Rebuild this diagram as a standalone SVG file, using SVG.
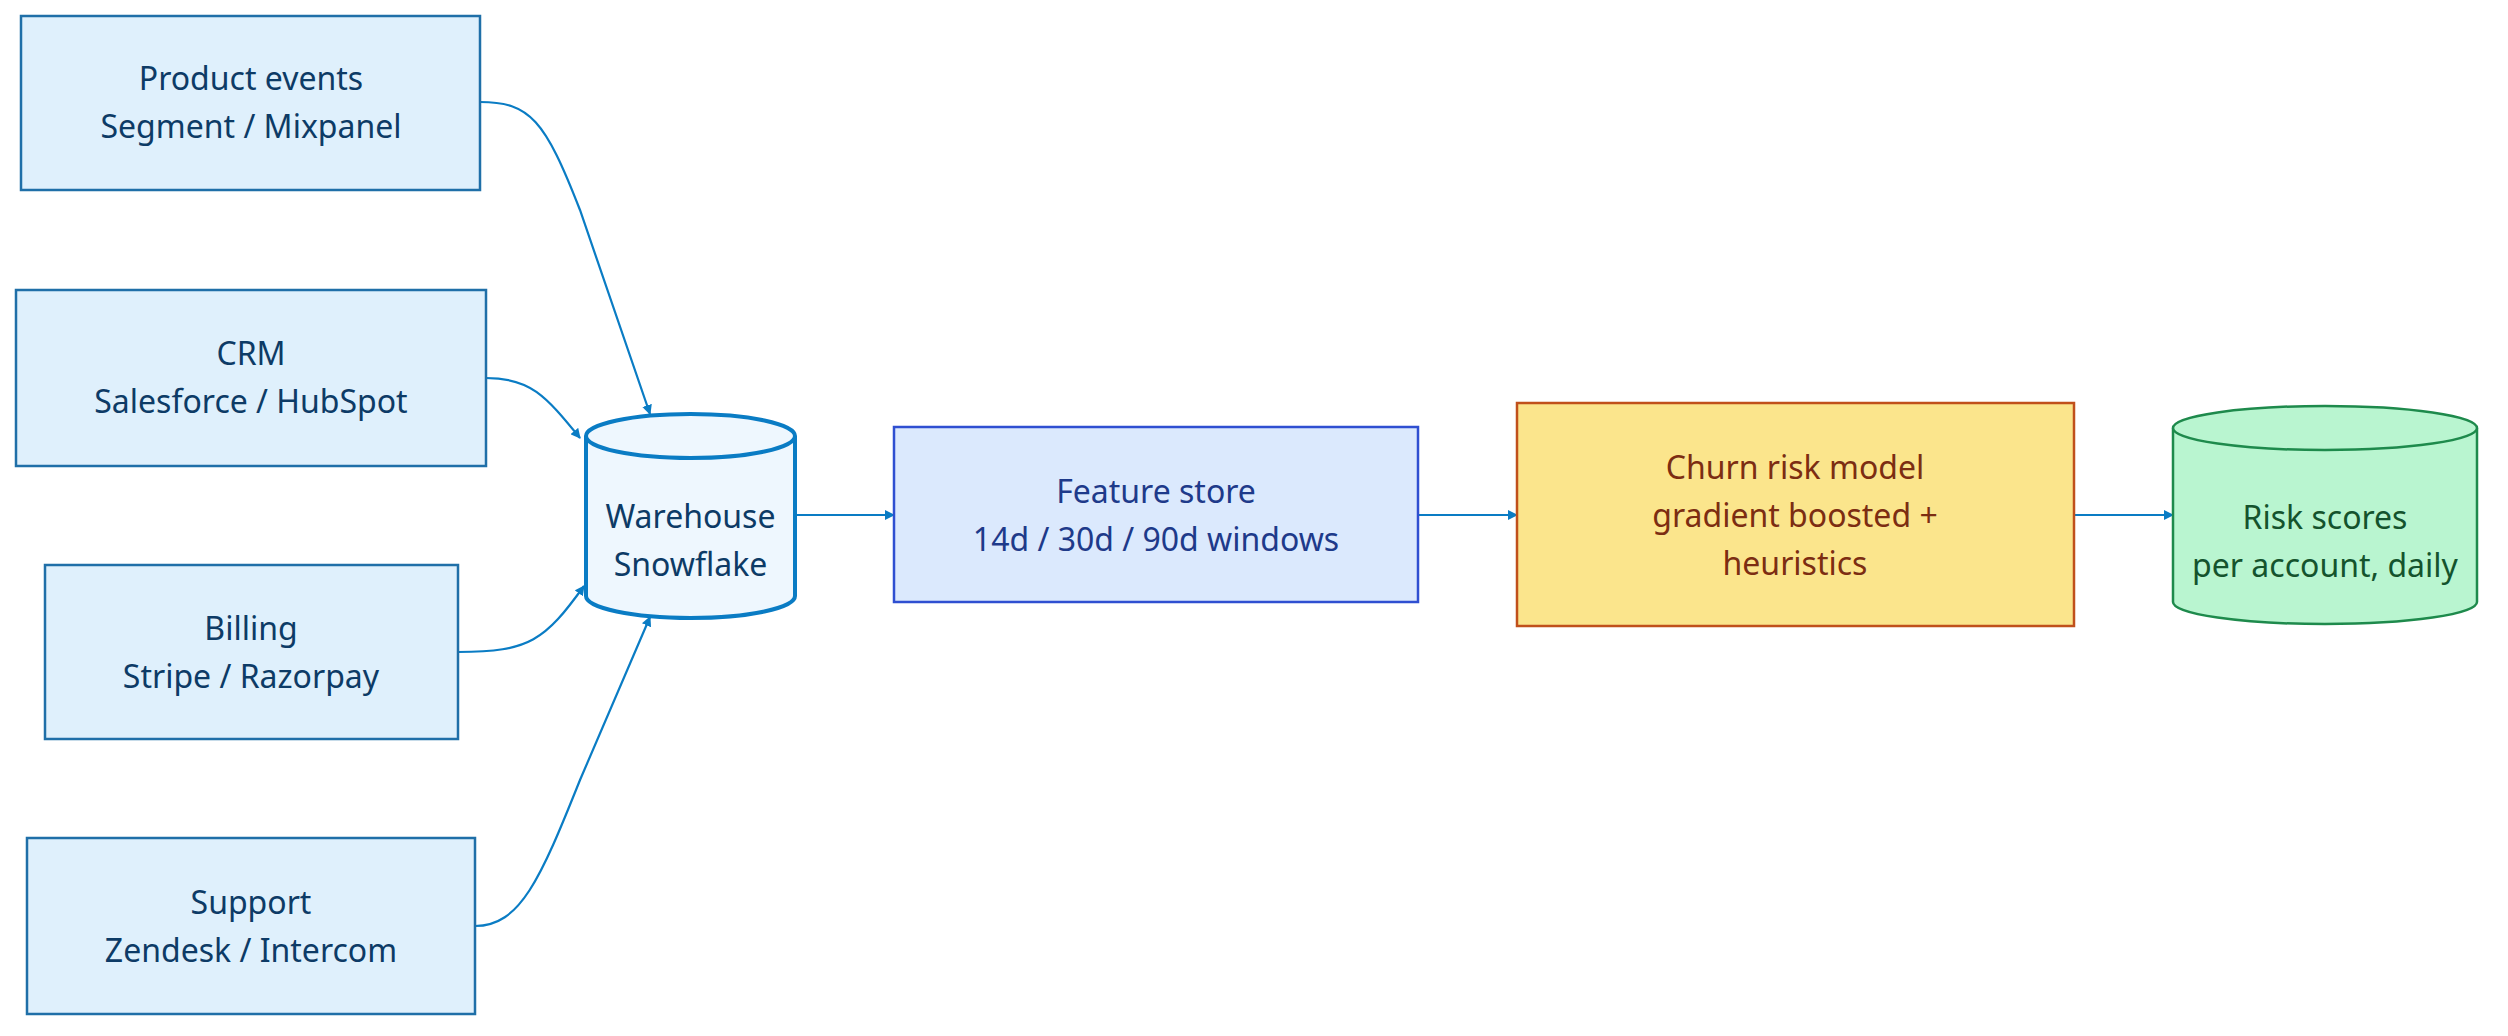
<svg xmlns="http://www.w3.org/2000/svg" width="2508" height="1036" viewBox="0 0 2508 1036">
<style>
text{font-family:"Noto Sans","Open Sans",sans-serif;font-size:32px;text-anchor:middle}
.src{fill:#dff0fc;stroke:#1f6fa8;stroke-width:2.5}
.src-t{fill:#0d3b66}
.e{fill:none;stroke:#0a7cc4;stroke-width:2.2;marker-end:url(#ah)}
</style>
<defs><marker id="ah" viewBox="0 0 10 10" refX="9" refY="5" markerWidth="10" markerHeight="10" markerUnits="userSpaceOnUse" orient="auto"><path d="M0,0L10,5L0,10z" fill="#0a7cc4"/></marker></defs>
<rect width="2508" height="1036" fill="#fff"/>
<g id="edges">
<path class="e" d="M480,102 C530,102 545,120 580,210 L650,414"/>
<path class="e" d="M486,378 C530,378 545,395 580,438"/>
<path class="e" d="M458,652 C530,652 545,640 584,586"/>
<path class="e" d="M475,926 C520,926 540,880 580,780 L650,617"/>
<path class="e" d="M795,515 L894,515"/>
<path class="e" d="M1418,515 L1517,515"/>
<path class="e" d="M2074,515 L2173,515"/>
</g>
<g id="product"><rect class="src" x="21" y="16" width="459" height="174"/><text class="src-t" x="251" y="90">Product events</text><text class="src-t" x="251" y="138">Segment / Mixpanel</text></g>
<g id="crm"><rect class="src" x="16" y="290" width="470" height="176"/><text class="src-t" x="251" y="365">CRM</text><text class="src-t" x="251" y="413">Salesforce / HubSpot</text></g>
<g id="billing"><rect class="src" x="45" y="565" width="413" height="174"/><text class="src-t" x="251" y="640">Billing</text><text class="src-t" x="251" y="688">Stripe / Razorpay</text></g>
<g id="support"><rect class="src" x="27" y="838" width="448" height="176"/><text class="src-t" x="251" y="914">Support</text><text class="src-t" x="251" y="962">Zendesk / Intercom</text></g>
<g id="warehouse">
<path d="M586,436 L586,596 A104.5,22 0 0 0 795,596 L795,436" fill="#eef7fe" stroke="#0a7cc4" stroke-width="4"/>
<ellipse cx="690.5" cy="436" rx="104.5" ry="22" fill="#eef7fe" stroke="#0a7cc4" stroke-width="4"/>
<text class="src-t" x="690.5" y="528">Warehouse</text><text class="src-t" x="690.5" y="576">Snowflake</text></g>
<g id="feature"><rect x="894" y="427" width="524" height="175" fill="#dbe9fd" stroke="#2f4fd1" stroke-width="2.5"/><text fill="#1e3a8a" x="1156" y="503">Feature store</text><text fill="#1e3a8a" x="1156" y="551">14d / 30d / 90d windows</text></g>
<g id="churn"><rect x="1517" y="403" width="557" height="223" fill="#fbe58c" stroke="#c0501b" stroke-width="2.5"/><text fill="#7c2d12" x="1795" y="479">Churn risk model</text><text fill="#7c2d12" x="1795" y="527">gradient boosted +</text><text fill="#7c2d12" x="1795" y="575">heuristics</text></g>
<g id="risk">
<path d="M2173,428 L2173,602 A152,22 0 0 0 2477,602 L2477,428" fill="#b9f5d0" stroke="#1e8a4c" stroke-width="2.5"/>
<ellipse cx="2325" cy="428" rx="152" ry="22" fill="#b9f5d0" stroke="#1e8a4c" stroke-width="2.5"/>
<text fill="#14532d" x="2325" y="529">Risk scores</text><text fill="#14532d" x="2325" y="577">per account, daily</text></g>
</svg>
